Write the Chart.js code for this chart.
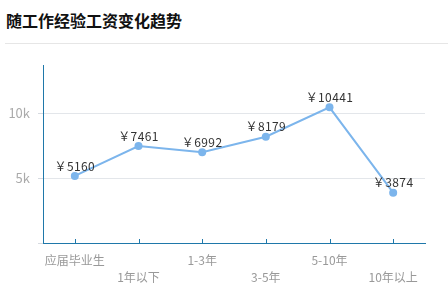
<!DOCTYPE html>
<html>
<head>
<meta charset="utf-8">
<script src="https://cdn.jsdelivr.net/npm/chart.js@4/dist/chart.umd.min.js"></script>
<style>
  html, body { margin: 0; padding: 0; background: #fff; }
  body { width: 448px; height: 291px; position: relative; overflow: hidden; font-family: "Noto Sans CJK SC", sans-serif; }
  .title { position: absolute; left: 6px; top: 9px; font-size: 16px; font-weight: bold; color: #111; line-height: 22px; letter-spacing: 0; }
  .rule { position: absolute; left: 5px; right: 0; top: 43px; height: 1px; background: #e6e6e6; }
  canvas { position: absolute; left: 0; top: 0; }
</style>
</head>
<body>
<div class="title">随工作经验工资变化趋势</div>
<div class="rule"></div>
<canvas id="c" width="448" height="291"></canvas>
<script>
// Experience brackets and average monthly salary (CNY)
const categories = ['应届毕业生', '1年以下', '1-3年', '3-5年', '5-10年', '10年以上'];
const salaries = [5160, 7461, 6992, 8179, 10441, 3874];
const yTickValues = [0, 5000, 10000];
const yTickLabels = ['', '5k', '10k'];
const yMax = 13700;

// Alternate labels between two rows so the long ones don't collide
const xLabels = categories.map((c, i) => (i % 2 === 0 ? [c, ''] : ['', c]));

const AXIS_COLOR = '#1f78aa';
const LINE_COLOR = '#7cb5ec';

// Short tick marks pointing up into the plot from the x axis
const innerTicks = {
  id: 'innerTicks',
  afterDatasetsDraw(chart) {
    const x = chart.scales.x;
    const ctx = chart.ctx;
    const bottom = chart.chartArea.bottom;
    ctx.save();
    ctx.strokeStyle = AXIS_COLOR;
    ctx.lineWidth = 1;
    x.ticks.forEach((t, i) => {
      const px = Math.round(x.getPixelForTick(i)) + 0.5;
      ctx.beginPath();
      ctx.moveTo(px, bottom);
      ctx.lineTo(px, bottom - 4);
      ctx.stroke();
    });
    ctx.restore();
  }
};

// "￥value" captions above each point
const valueLabels = {
  id: 'valueLabels',
  afterDatasetsDraw(chart) {
    const ctx = chart.ctx;
    const meta = chart.getDatasetMeta(0);
    const data = chart.data.datasets[0].data;
    ctx.save();
    ctx.font = '12px "Noto Sans CJK SC", sans-serif';
    if ('letterSpacing' in ctx) ctx.letterSpacing = '0.4px';
    ctx.textAlign = 'center';
    ctx.textBaseline = 'middle';
    ctx.fillStyle = '#333';
    meta.data.forEach((pt, i) => {
      ctx.fillText('￥' + data[i], pt.x, pt.y - 10);
    });
    ctx.restore();
  }
};

new Chart(document.getElementById('c'), {
  type: 'line',
  data: {
    labels: xLabels,
    datasets: [{
      data: salaries,
      borderColor: LINE_COLOR,
      backgroundColor: LINE_COLOR,
      borderWidth: 2,
      pointRadius: 4,
      pointHoverRadius: 4,
      pointBorderWidth: 0,
      tension: 0
    }]
  },
  options: {
    responsive: false,
    devicePixelRatio: 1,
    animation: false,
    layout: { padding: { left: 0, right: 23, top: 65, bottom: 0 } },
    plugins: {
      legend: { display: false },
      tooltip: { enabled: false },
      title: { display: false }
    },
    scales: {
      x: {
        offset: true,
        grid: { display: false, drawTicks: false, offset: false },
        border: { display: true, color: AXIS_COLOR, width: 1 },
        ticks: {
          autoSkip: false,
          maxRotation: 0,
          minRotation: 0,
          padding: 9,
          color: '#999',
          font: { family: '"Noto Sans CJK SC", sans-serif', size: 12, lineHeight: 1.4 }
        },
        afterFit(s) { s.height = 48; }
      },
      y: {
        min: 0,
        max: yMax,
        afterBuildTicks(s) { s.ticks = yTickValues.map(v => ({ value: v })); },
        grid: {
          color: '#e3e6ea',
          tickColor: '#d6dae0',
          tickLength: 5,
          lineWidth: 1
        },
        border: { display: true, color: AXIS_COLOR, width: 1 },
        ticks: {
          padding: 8,
          color: '#aaa',
          font: { family: '"Noto Sans CJK SC", sans-serif', size: 13 },
          callback: (v, i) => yTickLabels[i]
        },
        afterFit(s) { s.width = 43; }
      }
    }
  },
  plugins: [innerTicks, valueLabels]
});
</script>
</body>
</html>
